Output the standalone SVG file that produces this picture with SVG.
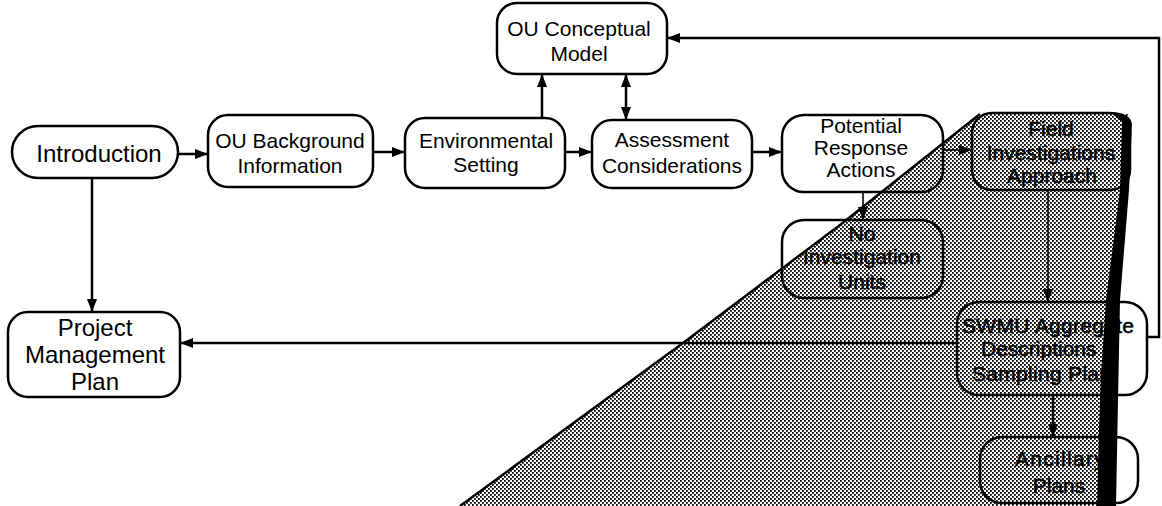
<svg xmlns="http://www.w3.org/2000/svg" width="1162" height="506" viewBox="0 0 1162 506">
  <style>
    .box { fill: none; stroke: #000; stroke-width: 2.5; }
    .lbl { font-family: "Liberation Sans", Arial, Helvetica, sans-serif; font-size: 21px; fill: #000; text-anchor: middle; }
    .big { font-size: 24px; }
    .dim { stroke: #000; stroke-width: 0.5; }
    .start { text-anchor: start; }
    .edge { fill: none; stroke: #000; stroke-width: 2.5; }
    .thin { stroke-width: 1.6; }
    .arr { marker-end: url(#head); }
  </style>
  <defs>
    <pattern id="halftone" width="4" height="4" patternUnits="userSpaceOnUse">
      <rect width="4" height="4" fill="#fff"/>
      <rect x="0" y="0" width="1.8" height="1.8" fill="#000"/>
      <rect x="2" y="2" width="1.8" height="1.8" fill="#000"/>
    </pattern>
    <marker id="head" markerUnits="userSpaceOnUse" markerWidth="14" markerHeight="12" refX="13" refY="5" orient="auto-start-reverse" viewBox="0 0 14 10">
      <path d="M0,0 L13,5 L0,10 Z" fill="#000"/>
    </marker>
  </defs>

  <rect width="1162" height="506" fill="#fff"/>

  <!-- screened overlay area -->
  <g id="overlay">
    <path d="M460,506 L683,343 L840,225 L980,114 L1128,114 L1110,300 L1097,506 Z" fill="url(#halftone)"/>
    <path d="M460,506 L683,343 L840,225 L980,114" fill="none" stroke="#000" stroke-width="2.5"/>
  </g>

  <g id="connectors">
    <path class="edge arr" d="M178,154 H208"/>
    <path class="edge arr" d="M373,152 H405"/>
    <path class="edge arr" d="M565,152 H592"/>
    <path class="edge arr" d="M752,152 H782"/>
    <path class="edge arr thin" d="M943,150 H972"/>
    <path class="edge arr" d="M542,118 V74"/>
    <path class="edge arr" d="M626,74 V120" marker-start="url(#head)"/>
    <path class="edge arr" d="M92,178 V312"/>
    <path class="edge arr thin" d="M863,192 V220"/>
    <path class="edge arr thin" d="M1048,190 V302"/>
    <path class="edge arr" d="M1053,395 V437"/>
    <path class="edge arr" d="M957,343 H180"/>
    <path class="edge arr" d="M1147,337 H1159 V38 H667"/>
  </g>

  <g id="introduction">
    <rect class="box" x="12" y="126" width="166" height="52" rx="26"/>
    <text class="lbl big" x="99" y="162">Introduction</text>
  </g>

  <g id="ou-background">
    <rect class="box" x="208" y="115" width="165" height="72" rx="20"/>
    <text class="lbl" x="290" y="148">OU Background</text>
    <text class="lbl" x="290" y="173">Information</text>
  </g>

  <g id="environmental-setting">
    <rect class="box" x="405" y="118" width="160" height="70" rx="20"/>
    <text class="lbl" x="486" y="148">Environmental</text>
    <text class="lbl" x="486" y="172">Setting</text>
  </g>

  <g id="ou-conceptual-model">
    <rect class="box" x="497" y="3" width="170" height="71" rx="20"/>
    <text class="lbl" x="579" y="36">OU Conceptual</text>
    <text class="lbl" x="579" y="61">Model</text>
  </g>

  <g id="assessment-considerations">
    <rect class="box" x="592" y="120" width="160" height="68" rx="20"/>
    <text class="lbl" x="672" y="147">Assessment</text>
    <text class="lbl" x="672" y="173">Considerations</text>
  </g>

  <g id="potential-response-actions">
    <rect class="box" x="782" y="115" width="161" height="77" rx="22"/>
    <text class="lbl" x="861" y="133">Potential</text>
    <text class="lbl" x="861" y="155">Response</text>
    <text class="lbl" x="861" y="177">Actions</text>
  </g>

  <g id="field-investigations-approach">
    <rect class="box" x="972" y="113" width="158" height="77" rx="20"/>
    <text class="lbl dim" x="1051" y="136">Field</text>
    <text class="lbl dim" x="1051" y="160">Investigations</text>
    <text class="lbl dim" x="1052" y="183">Approach</text>
  </g>

  <g id="no-investigation-units">
    <rect class="box" x="782" y="220" width="161" height="78" rx="22"/>
    <text class="lbl dim" x="862" y="241">No</text>
    <text class="lbl dim" x="862" y="264">Investigation</text>
    <text class="lbl dim" x="862" y="289">Units</text>
  </g>

  <g id="swmu-aggregate">
    <rect class="box" x="957" y="302" width="190" height="93" rx="22"/>
    <text class="lbl dim start" x="962" y="333" letter-spacing="0.3">SWMU Aggregate</text>
    <text class="lbl dim start" x="981" y="356">Descriptions</text>
    <text class="lbl dim start" x="972" y="381" letter-spacing="0.3">Sampling Plan</text>
  </g>

  <g id="ancillary-plans">
    <rect class="box" x="980" y="437" width="158" height="66" rx="22"/>
    <text class="lbl dim start" x="1015" y="466" letter-spacing="1.3">Ancillary</text>
    <text class="lbl dim" x="1059" y="493">Plans</text>
  </g>

  <g id="project-management-plan">
    <rect class="box" x="8" y="312" width="172" height="85" rx="20"/>
    <text class="lbl big" x="95" y="336">Project</text>
    <text class="lbl big" x="95" y="363">Management</text>
    <text class="lbl big" x="95" y="390">Plan</text>
  </g>

  <!-- heavy black bar along the right edge of the overlay -->
  <path id="bar" d="M1110,112 Q1130,112 1132,124 L1129,190 L1120,300 L1118,400 L1116,506 L1097,506 L1099,430 L1101,375 L1106,300 L1120,190 L1122,122 Z" fill="#000"/>
</svg>
